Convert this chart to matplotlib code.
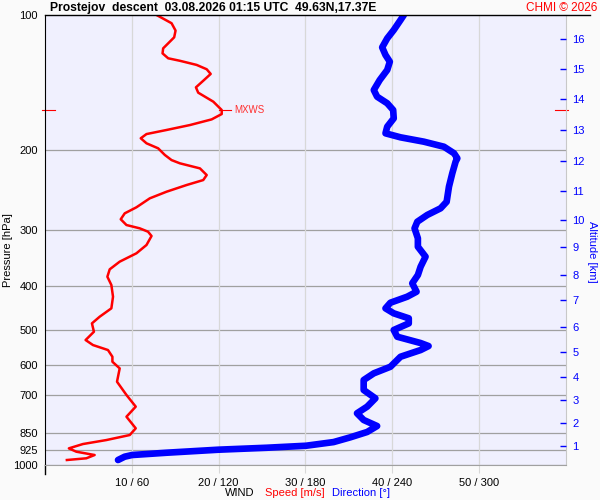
import numpy as np
import matplotlib
matplotlib.use('Agg')
import matplotlib.pyplot as plt
from matplotlib.lines import Line2D

plt.rcParams['font.family'] = ['Liberation Sans', 'DejaVu Sans']

# wind speed profile [m/s] vs pressure [hPa]
speed_p = [100, 104.3, 108.3, 112.1, 115.6, 118.6, 121.7, 124.8, 126.4, 129.1, 132.0,
           135.2, 140.0, 144.8, 148.8, 155.8, 162.6, 166.0, 170.6, 175.6, 180.1,
           183.9, 187.9, 192.8, 197.8, 204.7, 210.1, 213.6, 219.2, 226.8, 232.7,
           238.7, 247.0, 255.5, 267.5, 275.9, 284.4, 292.9, 297.9, 303.1, 309.8,
           324.4, 338.5, 353.3, 367.4, 381.6, 398.1, 422.7, 448.6, 468.3, 484.5,
           505.7, 527.6, 541.3, 555.3, 574.7, 589.6, 610.0, 653.0, 698.9, 741.9,
           781.1, 828.9, 857.8, 880.1, 898.3, 918.4, 934.2, 950.2, 966.3, 974.8]
speed = [12.86, 14.59, 15.05, 14.89, 14.20, 13.62, 13.55, 14.20, 15.55, 17.48, 18.64,
         19.10, 18.24, 17.40, 17.66, 19.40, 20.37, 20.37, 19.21, 16.71, 14.01,
         11.70, 11.04, 11.70, 13.04, 13.82, 14.59, 15.55, 17.86, 18.64, 18.24,
         16.32, 14.01, 12.08, 10.54, 9.19, 8.73, 9.39, 10.92, 11.88, 12.28,
         11.70, 10.54, 8.61, 7.46, 7.19, 7.65, 7.84, 7.65, 6.30, 5.41,
         5.64, 4.68, 5.53, 7.26, 7.77, 7.77, 8.61, 8.30, 9.39, 10.46,
         9.39, 10.46, 9.77, 7.08, 4.37, 2.75, 3.61, 5.72, 4.76, 2.52]

# wind direction profile [deg] vs pressure [hPa]
dir_p = [100, 102.6, 108.0, 112.7, 118.0, 122.7, 127.0, 132.5, 139.5, 146.8,
         151.9, 157.1, 162.6, 169.7, 177.1, 183.2, 187.0, 191.2, 196.2, 202.9,
         208.2, 211.8, 224.8, 240.7, 260.0, 268.9, 278.2, 288.0, 297.9, 313.5,
         327.3, 344.4, 362.5, 378.3, 394.7, 412.0, 422.7, 435.9, 448.6, 460.2,
         472.1, 484.5, 501.2, 518.7, 535.8, 544.1, 555.3, 574.7, 604.9, 625.6,
         647.4, 681.3, 710.9, 741.9, 767.5, 794.3, 819.2, 844.6, 867.9, 889.3,
         906.2, 915.5, 924.7, 939.1, 950.2, 958.4, 974.8]
direction = [248.2, 245.9, 241.2, 236.7, 233.2, 235.5, 238.5, 236.7, 231.5, 227.4,
             229.7, 236.7, 240.8, 241.2, 236.7, 235.5, 245.9, 262.0, 275.9, 282.9,
             285.2, 284.0, 281.7, 279.4, 277.8, 273.6, 264.4, 257.5, 255.6, 257.9,
             257.9, 263.2, 259.8, 257.9, 254.0, 257.0, 250.5, 238.9, 235.5, 241.2,
             251.6, 251.6, 241.2, 243.6, 259.8, 265.3, 259.8, 245.9, 238.9, 227.4,
             220.4, 220.4, 228.5, 222.8, 215.8, 220.4, 229.7, 222.8, 211.2, 199.6,
             180.5, 153.4, 119.9, 84.1, 60.2, 55.1, 50.5]

# max wind
mxws_p = 163
mxws_speed = 20.4

p_ticks = [100, 200, 300, 400, 500, 600, 700, 850, 925, 1000]
speed_ticks = [10, 20, 30, 40, 50]
dir_ticks = [60, 120, 180, 240, 300]

alt_km = [1, 2, 3, 4, 5, 6, 7, 8, 9, 10, 11, 12, 13, 14, 15, 16]
alt_p = [907, 806, 717, 637, 561, 494, 430, 378, 328, 285, 246, 211, 180, 154, 132, 113]

grid_dark = '#a0a0a0'
grid_light = '#d8d8d8'

fig = plt.figure(figsize=(6, 5), dpi=100, facecolor='#fafafa')
ax = fig.add_axes([0.075, 0.07, 0.8675, 0.90])
ax.set_facecolor('#f0f0fe')

ax.set_yscale('log')
ax.set_ylim(1000, 100)
ax.set_xlim(0, 60)

ax.set_yticks(p_ticks)
ax.set_yticklabels([str(p) for p in p_ticks])
ax.yaxis.set_minor_locator(matplotlib.ticker.NullLocator())
ax.tick_params(axis='y', length=0, pad=5, labelsize=8)

ax.set_xticks(speed_ticks)
ax.set_xticklabels(['%d / %d' % (s, d) for s, d in zip(speed_ticks, dir_ticks)])
ax.tick_params(axis='x', length=6, color=grid_light, pad=3, labelsize=8)

for p in p_ticks[1:]:
    ax.axhline(p, color=grid_dark, lw=0.9, zorder=1)
for s in speed_ticks:
    ax.axvline(s, color=grid_light, lw=0.9, zorder=1)

ax.spines['left'].set_color('black')
ax.spines['top'].set_visible(False)
ax.spines['bottom'].set_color(grid_dark)
ax.spines['right'].set_color('#c8c8c8')

# speed
ax.plot(speed, speed_p, color='#ff0000', lw=1.8, solid_joinstyle='round', zorder=3)

# MXWS mark
ax.plot([mxws_speed - 0.3, mxws_speed + 1.0], [mxws_p, mxws_p], color='#ff0000', lw=0.8, zorder=3)
ax.text(mxws_speed + 1.4, mxws_p, 'MXWS', color='#ff3030', fontsize=7, va='center', zorder=4)
ytr = ax.get_yaxis_transform()
ax.add_line(Line2D([-0.005, 0.02], [mxws_p, mxws_p], transform=ytr, color='#ff0000', lw=0.8, clip_on=False))
ax.add_line(Line2D([0.98, 1.005], [mxws_p, mxws_p], transform=ytr, color='#ff0000', lw=0.8, clip_on=False))

# direction on its own x scale
axd = ax.twiny()
axd.set_xlim(0, 360)
axd.set_xticks([])
for sp in axd.spines.values():
    sp.set_visible(False)
axd.plot(direction, dir_p, color='#0000ff', lw=4.8, solid_capstyle='round',
         solid_joinstyle='round', zorder=3)

# altitude axis
axa = ax.twinx()
axa.set_yscale('log')
axa.set_ylim(1000, 100)
axa.set_yticks(alt_p)
axa.set_yticklabels([str(a) for a in alt_km])
axa.yaxis.set_minor_locator(matplotlib.ticker.NullLocator())
axa.tick_params(axis='y', direction='in', length=4.5, width=1, color='#0000ff',
                labelcolor='#0000ff', labelsize=8, pad=5)
for sp in axa.spines.values():
    sp.set_visible(False)

# top line and left axis extension
fig.add_artist(Line2D([45 / 600, 590 / 600], [1 - 15 / 500, 1 - 15 / 500], color='black', lw=1))
ax.add_line(Line2D([0, 0], [-0.02, 0], transform=ax.transAxes, color='black', lw=1, clip_on=False))

# texts
fig.text(50 / 600, 1 - 8 / 500, 'Prostejov  descent  03.08.2026 01:15 UTC  49.63N,17.37E',
         fontsize=8.7, fontweight='bold', va='center', ha='left')
fig.text(597 / 600, 1 - 8 / 500, 'CHMI \u00a9 2026', fontsize=8.5, color='#ff0000', va='center', ha='right')
fig.text(8 / 600, 0.5, 'Pressure [hPa]', rotation=90, fontsize=8, va='center', ha='center')
fig.text(592 / 600, 0.496, 'Altitude [km]', rotation=-90, fontsize=8, va='center', ha='center', color='#0000ff')
fig.text(225 / 600, 1 - 493 / 500, 'WIND', fontsize=8, va='center', ha='left')
fig.text(265 / 600, 1 - 493 / 500, 'Speed [m/s]', fontsize=8, va='center', ha='left', color='#ff0000')
fig.text(332 / 600, 1 - 493 / 500, 'Direction [\u00b0]', fontsize=8, va='center', ha='left', color='#0000ff')

fig.savefig('out.png', dpi=100, facecolor=fig.get_facecolor())
